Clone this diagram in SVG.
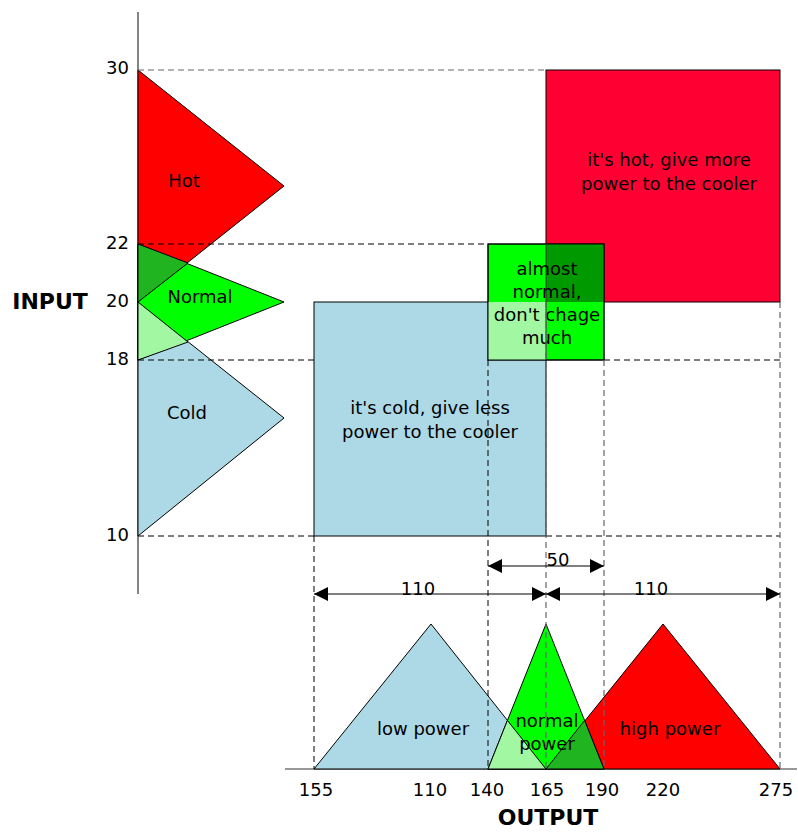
<svg xmlns="http://www.w3.org/2000/svg" width="798" height="833" viewBox="0 0 798 833">
<defs>
<style>
text{font-family:"DejaVu Sans","Liberation Sans",sans-serif;font-size:18px;fill:#000}
.c{text-anchor:middle}
.e{text-anchor:end}
.b{font-weight:bold;font-size:22px}
.sh{stroke:#000;stroke-width:1}
.ax{stroke:#333;stroke-width:1.2;fill:none}
.dk{stroke:#000;stroke-width:1;stroke-dasharray:6,4;fill:none}
.gr{stroke:#666;stroke-width:1.2;stroke-dasharray:6,4;fill:none}
.ar{stroke:#000;stroke-width:1.2;fill:none;marker-start:url(#ah);marker-end:url(#ah)}
</style>
<marker id="ah" viewBox="0 0 14 14" refX="14" refY="7" markerWidth="14" markerHeight="14" markerUnits="userSpaceOnUse" orient="auto-start-reverse">
<path d="M0,0 L14,7 L0,14 Z" fill="#000"/>
</marker>
</defs>
<rect width="798" height="833" fill="#fff"/>

<g id="axes">
<line class="ax" x1="138" y1="12" x2="138" y2="594"/>
<line class="ax" x1="285" y1="769" x2="797" y2="769"/>
<text class="b c" x="50" y="309">INPUT</text>
<text class="b c" x="548" y="825">OUTPUT</text>
<text class="e" x="129" y="74">30</text>
<text class="e" x="129" y="249">22</text>
<text class="e" x="129" y="307">20</text>
<text class="e" x="129" y="365">18</text>
<text class="e" x="129" y="541">10</text>
<text class="c" x="316" y="796">155</text>
<text class="c" x="430" y="796">110</text>
<text class="c" x="487" y="796">140</text>
<text class="c" x="547" y="796">165</text>
<text class="c" x="602" y="796">190</text>
<text class="c" x="663" y="796">220</text>
<text class="c" x="776" y="796">275</text>
</g>

<g id="input-hot">
<polygon class="sh" points="138,70 284,186 138,302" fill="#ff0000"/>
<text class="c" x="184" y="187">Hot</text>
</g>
<g id="input-cold">
<polygon class="sh" points="138,302 284,418 138,536" fill="#add8e6"/>
<text class="c" x="187" y="419">Cold</text>
</g>
<g id="input-normal">
<polygon class="sh" points="138,244 284,302 138,360" fill="#00ff00"/>
<polygon class="sh" points="138,244 188,263 138,302" fill="#21b421"/>
<polygon class="sh" points="138,302 188,342 138,360" fill="#a2f7a2"/>
<text class="c" x="200" y="303">Normal</text>
</g>

<g id="rule-hot">
<rect class="sh" x="546" y="70" width="234" height="232" fill="#ff0033"/>
<text class="c" x="669" y="166">it's hot, give more</text>
<text class="c" x="669" y="190">power to the cooler</text>
</g>
<g id="rule-cold">
<rect class="sh" x="314" y="302" width="232" height="234" fill="#add8e6"/>
<text class="c" x="430" y="414">it's cold, give less</text>
<text class="c" x="430" y="438">power to the cooler</text>
</g>
<g id="rule-normal">
<rect class="sh" x="488" y="244" width="116" height="116" fill="#00ff00"/>
<rect x="546" y="244" width="58" height="58" fill="#009a00"/>
<rect x="488" y="302" width="58" height="58" fill="#a2f7a2"/>
<rect x="488" y="244" width="116" height="116" fill="none" stroke="#000"/>
<line x1="546" y1="244" x2="546" y2="360" stroke="#333"/>
<text class="c" x="547" y="275">almost</text>
<text class="c" x="547" y="298">normal,</text>
<text class="c" x="547" y="321">don't chage</text>
<text class="c" x="547" y="344">much</text>
</g>

<g id="output-low">
<polygon class="sh" points="314,769 431,624 546,769" fill="#add8e6"/>
<text class="c" x="423" y="735">low power</text>
</g>
<g id="output-high">
<polygon class="sh" points="546,769 663,624 780,769" fill="#ff0000"/>
<text class="c" x="670" y="735">high power</text>
</g>
<g id="output-normal">
<polygon class="sh" points="488,769 546,624 604,769" fill="#00ff00"/>
<polygon class="sh" points="488,769 507.4,720.4 546,769" fill="#a2f7a2"/>
<polygon class="sh" points="546,769 584.6,720.4 604,769" fill="#21b421"/>
<text class="c" x="547" y="727">normal</text>
<text class="c" x="547" y="750">power</text>
</g>

<g id="connectors">
<line class="gr" x1="138" y1="70" x2="546" y2="70"/>
<line class="dk" x1="138" y1="244" x2="488" y2="244"/>
<line class="dk" x1="138" y1="360" x2="314" y2="360"/>
<line class="dk" x1="604" y1="360" x2="780" y2="360"/>
<line class="dk" x1="138" y1="536" x2="314" y2="536"/>
<line class="dk" x1="546" y1="536" x2="780" y2="536"/>
<line class="dk" x1="314" y1="536" x2="314" y2="769"/>
<line class="dk" x1="488" y1="360" x2="488" y2="769"/>
<line class="gr" x1="546" y1="302" x2="546" y2="769"/>
<line class="gr" x1="604" y1="360" x2="604" y2="769"/>
<line class="gr" x1="780" y1="302" x2="780" y2="769"/>
<line class="ar" x1="488" y1="566" x2="604" y2="566"/>
<line class="ar" x1="314" y1="594" x2="546" y2="594"/>
<line class="ar" x1="546" y1="594" x2="780" y2="594"/>
<text class="c" x="558" y="566">50</text>
<text class="c" x="418" y="595">110</text>
<text class="c" x="651" y="595">110</text>
</g>
</svg>
